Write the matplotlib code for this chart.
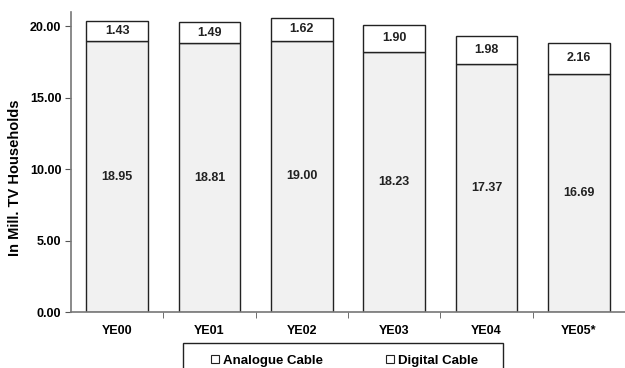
import matplotlib.pyplot as plt
import numpy as np
from matplotlib.lines import Line2D
from matplotlib.patches import Rectangle

plt.rcParams['font.family'] = ['Liberation Sans', 'DejaVu Sans']
plt.rcParams['font.weight'] = 'bold'

years = ["YE00", "YE01", "YE02", "YE03", "YE04", "YE05*"]
analogue = [18.95, 18.81, 19.00, 18.23, 17.37, 16.69]
digital = [1.43, 1.49, 1.62, 1.90, 1.98, 2.16]

fig = plt.figure(figsize=(6.25, 3.68), dpi=100)
ax = fig.add_axes([0.1136, 0.152, 0.8864, 0.815])

x = np.arange(len(years))
an = np.array(analogue)
dg = np.array(digital)
w = 0.67
ax.bar(x, an, w, color="#f1f1f1", edgecolor="#222222", linewidth=1.0)
ax.bar(x, dg, w, bottom=an, color="white", edgecolor="#222222", linewidth=1.0)

for i in range(len(years)):
    ax.text(x[i], an[i] / 2.0, "%.2f" % an[i], ha="center", va="center",
            fontsize=9, fontweight="bold", color="#222222")
    ax.text(x[i], an[i] + dg[i] / 2.0, "%.2f" % dg[i], ha="center", va="center",
            fontsize=9, fontweight="bold", color="#222222")

ax.set_xlim(-0.5, len(years) - 0.5)
ax.set_ylim(0, 21)
ax.set_yticks([0, 5, 10, 15, 20])
ax.set_yticklabels(["%.2f" % v for v in [0, 5, 10, 15, 20]], fontsize=9,
                   fontweight="bold")
ax.set_xticks(x)
ax.set_xticklabels(years, fontsize=9, fontweight="bold")
ax.tick_params(axis="x", which="major", length=0, pad=9)
ax.set_xticks(x[:-1] + 0.5, minor=True)
ax.tick_params(axis="x", which="minor", length=4, color="#555555")
ax.tick_params(axis="y", length=4, color="#555555", pad=3)

ax.spines["top"].set_visible(False)
ax.spines["right"].set_visible(False)
ax.spines["left"].set_color("#777777")
ax.spines["bottom"].set_color("#777777")
ax.spines["left"].set_linewidth(1.2)
ax.spines["bottom"].set_linewidth(1.2)

ax.set_ylabel("In Mill. TV Households", fontsize=10.5, fontweight="bold")
ax.yaxis.set_label_coords(-0.088, 0.447)

# legend box drawn separately so it can be wider than the entries
fig.patches.append(Rectangle((0.2928, -0.02), 0.512, 0.088, transform=fig.transFigure,
                             facecolor="white", edgecolor="#222222", linewidth=1.0))

handles = [Line2D([], [], marker="s", linestyle="none", markersize=6,
                  markerfacecolor="white", markeredgecolor="#222222", markeredgewidth=0.8),
           Line2D([], [], marker="s", linestyle="none", markersize=6,
                  markerfacecolor="white", markeredgecolor="#222222", markeredgewidth=0.8)]
leg = fig.legend(handles, ["Analogue Cable", "Digital Cable"], loc="center",
                 bbox_to_anchor=(0.549, 0.02), ncol=2, frameon=False,
                 fontsize=9.5, handletextpad=0.1, columnspacing=4.6, borderpad=0.2,
                 handlelength=1.0)

fig.savefig("out.png", dpi=100)
